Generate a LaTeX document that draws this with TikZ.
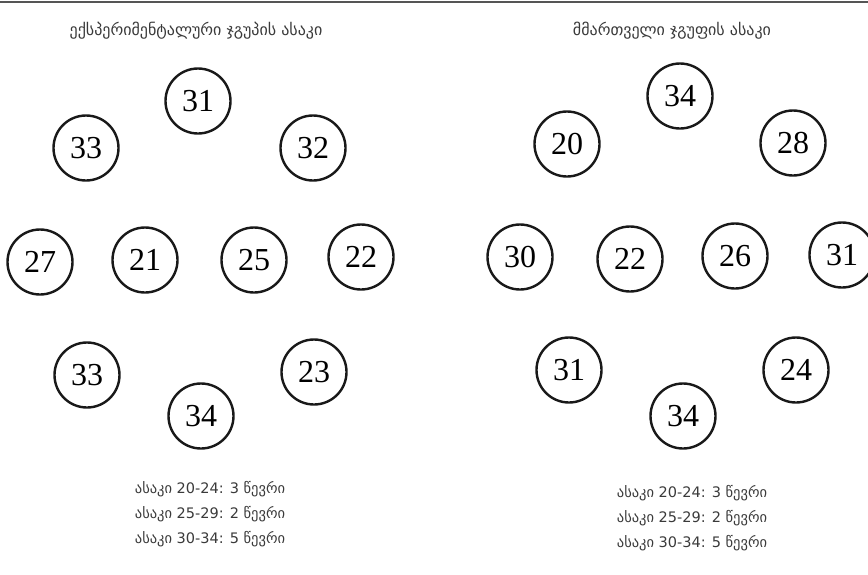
\documentclass[tikz,border=0pt]{standalone}
\usepackage{fontspec}
\setmainfont{Liberation Serif}
\newfontfamily\geo{DejaVu Sans}
\definecolor{txtgray}{HTML}{3A3A3A}
\definecolor{rulegray}{HTML}{555555}
\tikzset{
    age/.style={circle, draw=black!90, line width=2.4pt, minimum size=65pt, inner sep=0pt, font=\fontsize{32}{32}\selectfont},
    caption/.style={text=txtgray, font=\geo\fontsize{16}{19}\selectfont},
    tally/.style={text=txtgray, font=\geo\fontsize{14.5}{17}\selectfont, align=center}
}
\begin{document}
\begin{tikzpicture}[x=1pt,y=-1pt]
        \useasboundingbox (0,0) rectangle (868,574);
        \draw[rulegray, line width=2pt] (0,1.5) -- (868,1.5);
        % experimental group
        \node[caption] (eT) at (196,31) {ექსპერიმენტალური ჯგუპის ასაკი};
        \node[age] (e1) at (198,101) {31};
        \node[age] (e2) at (86,148) {33};
        \node[age] (e3) at (313,148) {32};
        \node[age] (e4) at (40,262) {27};
        \node[age] (e5) at (145,260) {21};
        \node[age] (e6) at (254,260) {25};
        \node[age] (e7) at (361,257) {22};
        \node[age] (e8) at (87,375) {33};
        \node[age] (e9) at (314,372) {23};
        \node[age] (e10) at (201,416) {34};
        \node[tally] (eS) at (210,514) {ასაკი 20-24: 3 წევრი\\[8pt]ასაკი 25-29: 2 წევრი\\[8pt]ასაკი 30-34: 5 წევრი};
        % control group
        \node[caption] (cT) at (672,31) {მმართველი ჯგუფის ასაკი};
        \node[age] (c1) at (680,96) {34};
        \node[age] (c2) at (567,144) {20};
        \node[age] (c3) at (793,143) {28};
        \node[age] (c4) at (520,257) {30};
        \node[age] (c5) at (630,259) {22};
        \node[age] (c6) at (735,256) {26};
        \node[age] (c7) at (842,255) {31};
        \node[age] (c8) at (569,370) {31};
        \node[age] (c9) at (796,370) {24};
        \node[age] (c10) at (683,416) {34};
        \node[tally] (cS) at (692,518) {ასაკი 20-24: 3 წევრი\\[8pt]ასაკი 25-29: 2 წევრი\\[8pt]ასაკი 30-34: 5 წევრი};
    \end{tikzpicture}
\end{document}
